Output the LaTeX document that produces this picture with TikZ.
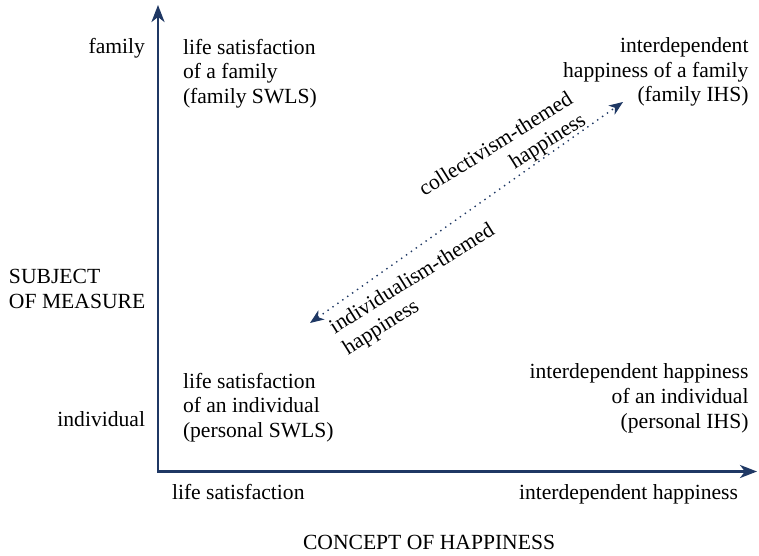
\documentclass[tikz,border=0pt]{standalone}
\usepackage{fontspec}
\setmainfont{LiberationSerif}[Extension=.ttf, UprightFont=*-Regular, BoldFont=*-Bold, ItalicFont=*-Italic]
\usetikzlibrary{arrows.meta}
\definecolor{navy}{HTML}{1F3864}
\begin{document}
\begin{tikzpicture}[x=1pt,y=1pt,
  lbl/.style={inner sep=0pt, outer sep=0pt, font=\fontsize{21.6}{24.6}\selectfont},
  axis/.style={draw=navy, line width=2.7pt, line join=miter,
    {Stealth[length=17pt,width=13pt,inset=5pt]}-{Stealth[length=17pt,width=13pt,inset=5pt]}},
  trend/.style={draw=navy, line width=1.4pt, dash pattern=on 1.4pt off 4.6pt,
    {Stealth[length=14pt,width=11pt,inset=4pt]}-{Stealth[length=14pt,width=11pt,inset=4pt]}}]
\useasboundingbox (0,0) rectangle (759,555);
\coordinate (O) at (158,83.5);
\coordinate (Ytip) at (158,550);
\coordinate (Xtip) at (757,83.5);
\draw[axis] (Ytip) -- (O) -- (Xtip);

\coordinate (ind) at (310,232);
\coordinate (col) at (623,453);
\draw[trend] (ind) -- (col);

\node[lbl, anchor=base east] (fam) at (145,501) {family};
\node[lbl, anchor=base east] (indv) at (145,129) {individual};
\node[lbl, align=left, anchor=base west] (lsf) at (183,451.5) {life satisfaction\\of a family\\(family SWLS)};
\node[lbl, align=right, anchor=base east] (ihf) at (748.5,453) {interdependent\\happiness of a family\\(family IHS)};
\node[lbl, align=left, anchor=base west] (lsi) at (183,117.5) {life satisfaction\\of an individual\\(personal SWLS)};
\node[lbl, align=right, anchor=base east] (ihi) at (748.5,127) {interdependent happiness\\of an individual\\(personal IHS)};
\node[lbl, align=left, anchor=base west] (subj) at (9,246.5) {SUBJECT\\OF MEASURE};
\node[lbl, anchor=base west] (xls) at (172,56) {life satisfaction};
\node[lbl, anchor=base east] (xih) at (738,56) {interdependent happiness};
\node[lbl, anchor=base west] (concept) at (303,6) {CONCEPT OF HAPPINESS};

\node[lbl, rotate=32, align=right, anchor=base east] (colt) at (587,431) {collectivism-themed\\happiness};
\node[lbl, rotate=32, align=left, anchor=base west] (indt) at (348,200) {individualism-themed\\happiness};
\end{tikzpicture}
\end{document}
